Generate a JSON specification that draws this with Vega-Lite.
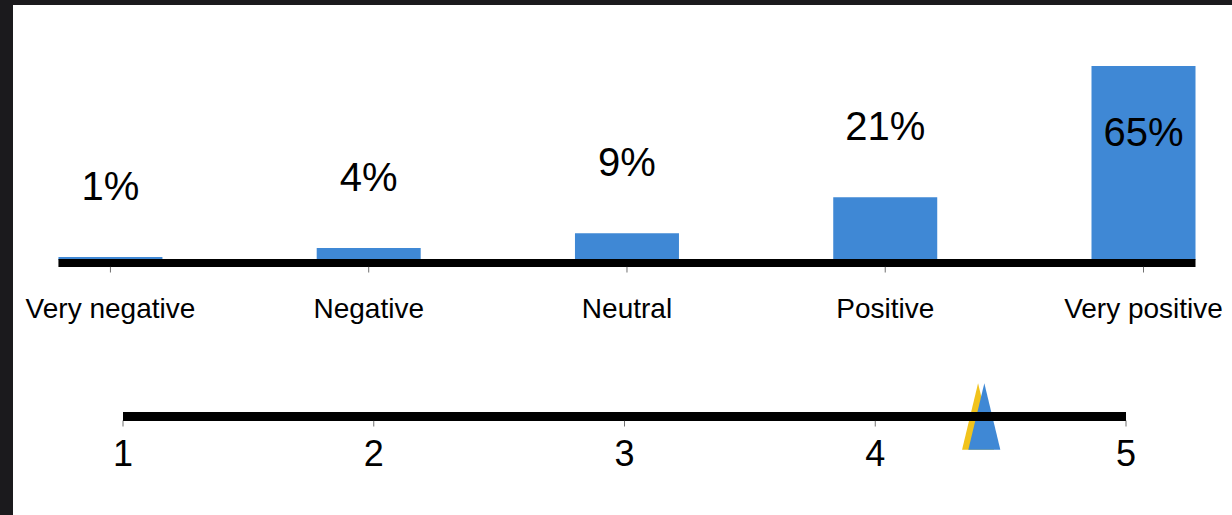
{
  "$schema": "https://vega.github.io/schema/vega-lite/v6.json",
  "width": 1232,
  "height": 515,
  "autosize": {"type": "fit", "contains": "padding"},
  "padding": {"left": 13, "top": 5, "right": 0, "bottom": 0},
  "background": "#1b1a1d",
  "config": {
    "view": {"fill": "white", "stroke": null},
    "text": {"color": "#000000", "font": "Liberation Sans, Arial, sans-serif"}
  },
  "datasets": {
    "dist": [
      {"idx": 1, "label": "Very negative", "pct": 0.01},
      {"idx": 2, "label": "Negative", "pct": 0.04},
      {"idx": 3, "label": "Neutral", "pct": 0.09},
      {"idx": 4, "label": "Positive", "pct": 0.21},
      {"idx": 5, "label": "Very positive", "pct": 0.65}
    ],
    "scalepts": [{"v": 1}, {"v": 2}, {"v": 3}, {"v": 4}, {"v": 5}],
    "means": [
      {"series": "Benchmark", "mean": 4.41},
      {"series": "Score", "mean": 4.435}
    ]
  },
  "layer": [
    {
      "data": {"name": "dist"},
      "layer": [
        {
          "mark": {"type": "bar", "width": 104, "color": "#3f88d5", "orient": "vertical"},
          "encoding": {
            "x": {"field": "idx", "type": "quantitative", "scale": {"domain": [0.6421, 5.3233], "nice": false, "zero": false}, "axis": null},
            "y": {"field": "pct", "type": "quantitative", "stack": null, "scale": {"domain": [-0.8546, 0.8546], "nice": false, "zero": false}, "axis": null}
          }
        },
        {
          "transform": [{"aggregate": [{"op": "min", "field": "idx", "as": "lo"}, {"op": "max", "field": "idx", "as": "hi"}]}],
          "mark": {"type": "rule", "color": "#000000", "strokeWidth": 8, "xOffset": -52, "x2Offset": 52, "yOffset": 3},
          "encoding": {
            "x": {"field": "lo", "type": "quantitative"},
            "x2": {"field": "hi"},
            "y": {"datum": 0, "type": "quantitative"}
          }
        },
        {
          "mark": {"type": "tick", "orient": "vertical", "size": 6, "thickness": 1, "color": "#333333", "yOffset": 9.5},
          "encoding": {
            "x": {"field": "idx", "type": "quantitative"},
            "y": {"datum": 0, "type": "quantitative"}
          }
        },
        {
          "mark": {"type": "text", "fontSize": 28, "baseline": "alphabetic", "align": "center", "dy": 58},
          "encoding": {
            "x": {"field": "idx", "type": "quantitative"},
            "y": {"datum": 0, "type": "quantitative"},
            "text": {"field": "label", "type": "nominal"}
          }
        },
        {
          "transform": [{"filter": "datum.pct < 0.5"}],
          "mark": {"type": "text", "fontSize": 40, "baseline": "alphabetic", "align": "center", "dy": -57},
          "encoding": {
            "x": {"field": "idx", "type": "quantitative"},
            "y": {"field": "pct", "type": "quantitative"},
            "text": {"field": "pct", "type": "quantitative", "format": ".0%"}
          }
        },
        {
          "transform": [{"filter": "datum.pct >= 0.5"}],
          "mark": {"type": "text", "fontSize": 40, "baseline": "alphabetic", "align": "center", "dy": 80},
          "encoding": {
            "x": {"field": "idx", "type": "quantitative"},
            "y": {"field": "pct", "type": "quantitative"},
            "text": {"field": "pct", "type": "quantitative", "format": ".0%"}
          }
        }
      ]
    },
    {
      "layer": [
        {
          "data": {"name": "means"},
          "mark": {"type": "point", "filled": true, "opacity": 1, "strokeWidth": 0, "size": 4449, "shape": "M0,-1L0.48,1L-0.48,1Z"},
          "encoding": {
            "x": {"field": "mean", "type": "quantitative", "scale": {"domain": [0.5613, 5.4227], "nice": false, "zero": false}, "axis": null},
            "y": {"datum": 0, "type": "quantitative", "scale": {"domain": [-1, 4.1777], "nice": false, "zero": false}, "axis": null},
            "color": {"field": "series", "type": "nominal", "scale": {"domain": ["Benchmark", "Score"], "range": ["#f1c31c", "#3f88d5"]}, "legend": null}
          }
        },
        {
          "data": {"name": "scalepts"},
          "transform": [{"aggregate": [{"op": "min", "field": "v", "as": "lo"}, {"op": "max", "field": "v", "as": "hi"}]}],
          "mark": {"type": "rule", "color": "#000000", "strokeWidth": 9},
          "encoding": {
            "x": {"field": "lo", "type": "quantitative"},
            "x2": {"field": "hi"},
            "y": {"datum": 0, "type": "quantitative"}
          }
        },
        {
          "data": {"name": "scalepts"},
          "mark": {"type": "tick", "orient": "vertical", "size": 6, "thickness": 1, "color": "#333333", "yOffset": 7},
          "encoding": {
            "x": {"field": "v", "type": "quantitative"},
            "y": {"datum": 0, "type": "quantitative"}
          }
        },
        {
          "data": {"name": "scalepts"},
          "mark": {"type": "text", "fontSize": 36, "baseline": "alphabetic", "align": "center", "dy": 49.5},
          "encoding": {
            "x": {"field": "v", "type": "quantitative"},
            "y": {"datum": 0, "type": "quantitative"},
            "text": {"field": "v", "type": "quantitative"}
          }
        }
      ]
    }
  ],
  "resolve": {"scale": {"x": "independent", "y": "independent"}}
}
